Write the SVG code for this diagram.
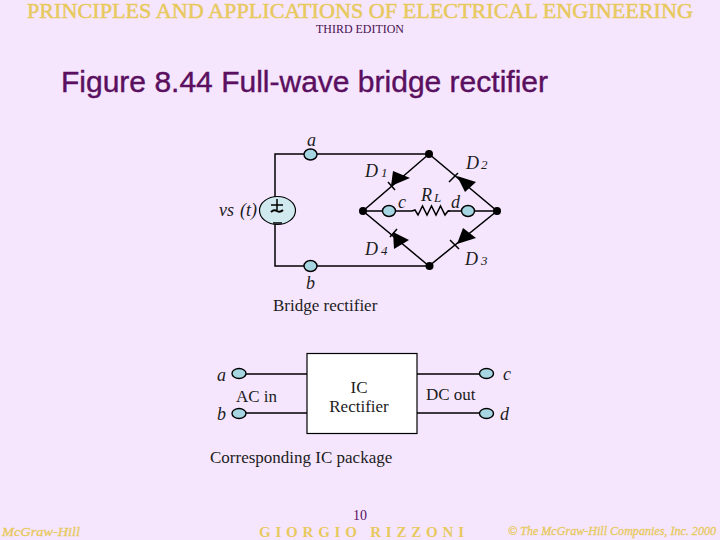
<svg xmlns="http://www.w3.org/2000/svg" width="720" height="540" viewBox="0 0 720 540">
<style>
text{font-family:"Liberation Serif","Times New Roman",serif;fill:#1c1c1c}
.i{font-style:italic;font-size:18px}
.s{font-style:italic;font-size:13px}
.l{font-size:17px}
.gold{fill:#e8c95e}
.w{fill:none;stroke:#000;stroke-width:1.5}
.t{fill:#a6d6e2;stroke:#000;stroke-width:1.4}
.n{fill:#000}
.d{fill:#000}
</style>
<rect width="720" height="540" fill="#f5e6fe"/>
<g id="header">
<text x="27" y="18" class="gold" font-size="21" stroke="#e8c95e" stroke-width="0.5" textLength="666" lengthAdjust="spacingAndGlyphs">PRINCIPLES AND APPLICATIONS OF ELECTRICAL ENGINEERING</text>
<text x="316" y="33" font-size="12" textLength="88" lengthAdjust="spacingAndGlyphs" style="fill:#4a1050">THIRD EDITION</text>
<text x="61" y="92" font-size="29" stroke="#5a0f5f" stroke-width="0.4" textLength="487" lengthAdjust="spacingAndGlyphs" style="font-family:'Liberation Sans',Arial,sans-serif;fill:#5a0f5f">Figure 8.44 Full-wave bridge rectifier</text>
</g>
<g id="connectors">
<path class="w" d="M275 197V154H429L497 211L429 266L363 211L429 154M275 224V266H429M363 211H412M448 211H497"/>
<path class="w" d="M412 211l3 -1 3 5 4.500 -9 4.500 9 4.500 -9 4.500 9 4.500 -9 4.500 9 3 -4h2"/>
<path class="w" d="M388 182l7 8M449 182l9 -9M450 240l9 9M390 237l7 -8"/>
<path class="w" d="M240 374H307M240 413H307M417 374H480M417 413H480"/>
</g>
<g id="diodes">
<polygon class="d" points="391,186 393,171 410,178"/>
<polygon class="d" points="457,176 476,182 465,192"/>
<polygon class="d" points="457,244 463,228 476,238"/>
<polygon class="d" points="393,232 394,249 409,240"/>
</g>
<g id="junctions">
<circle class="n" cx="429" cy="154" r="4"/>
<circle class="n" cx="363" cy="211" r="4"/>
<circle class="n" cx="497" cy="211" r="4"/>
<circle class="n" cx="429.500" cy="266" r="4"/>
</g>
<g id="source">
<ellipse cx="277.500" cy="210.500" rx="18" ry="14" fill="#cfe9ee" stroke="#000" stroke-width="1.2"/>
<path class="w" d="M271 205h12M277 199v11"/>
<path d="M271 212q3 -3 6 -1t6 -1" fill="none" stroke="#000" stroke-width="2"/>
<path class="w" d="M273 223h9"/>
<text x="219" y="216" class="i">vs</text>
<text x="240" y="216" class="i">(t)</text>
</g>
<g id="node-a"><ellipse class="t" cx="310.500" cy="154.500" rx="6.500" ry="5.500"/><text x="307" y="146" class="i">a</text></g>
<g id="node-b"><ellipse class="t" cx="310.500" cy="266" rx="6.500" ry="5.500"/><text x="306" y="289" class="i">b</text></g>
<g id="node-c"><ellipse class="t" cx="389" cy="211" rx="6.500" ry="5.500"/><text x="398" y="208" class="i">c</text></g>
<g id="node-d"><ellipse class="t" cx="468" cy="211" rx="6.500" ry="5.500"/><text x="451" y="208" class="i">d</text></g>
<g id="labels">
<text x="365" y="177" class="i">D</text><text x="381" y="177" class="s">1</text>
<text x="466" y="169" class="i">D</text><text x="481" y="169" class="s">2</text>
<text x="365" y="255" class="i">D</text><text x="381" y="255" class="s">4</text>
<text x="465" y="265" class="i">D</text><text x="481" y="265" class="s">3</text>
<text x="421" y="201" class="i">R</text><text x="434" y="202" class="s">L</text>
<text x="273" y="311" class="l">Bridge rectifier</text>
<text x="210" y="463" class="l">Corresponding IC package</text>
</g>
<g id="ic-rectifier">
<rect x="307" y="353.500" width="110" height="80" fill="#fff" stroke="#000" stroke-width="1.2"/>
<text x="359" y="393" class="l" text-anchor="middle">IC</text>
<text x="359" y="412" class="l" text-anchor="middle">Rectifier</text>
</g>
<g id="ic-pin-a"><ellipse class="t" cx="239" cy="373.500" rx="7" ry="5"/><text x="217" y="381" class="i">a</text></g>
<g id="ic-pin-b"><ellipse class="t" cx="239" cy="413.500" rx="7" ry="5"/><text x="217" y="420" class="i">b</text></g>
<g id="ic-pin-c"><ellipse class="t" cx="486.500" cy="373.500" rx="7" ry="5"/><text x="503" y="380" class="i">c</text></g>
<g id="ic-pin-d"><ellipse class="t" cx="486.500" cy="413.500" rx="7" ry="5"/><text x="500" y="420" class="i">d</text></g>
<g id="ic-labels">
<text x="236" y="402" class="l">AC in</text>
<text x="426" y="400" class="l">DC out</text>
</g>
<g id="footer">
<text x="353" y="520" font-size="14" style="fill:#5a0f5f">10</text>
<text x="259" y="537" font-size="15" font-weight="bold" class="gold" textLength="205" lengthAdjust="spacing">GIORGIO  RIZZONI</text>
<text x="2" y="536" font-size="13" font-style="italic" class="gold" stroke="#e8c95e" stroke-width="0.3" textLength="78" lengthAdjust="spacingAndGlyphs">McGraw-Hill</text>
<text x="508" y="535" font-size="12" font-style="italic" class="gold" stroke="#e8c95e" stroke-width="0.3" textLength="208" lengthAdjust="spacingAndGlyphs">© The McGraw-Hill Companies, Inc. 2000</text>
</g>
</svg>
